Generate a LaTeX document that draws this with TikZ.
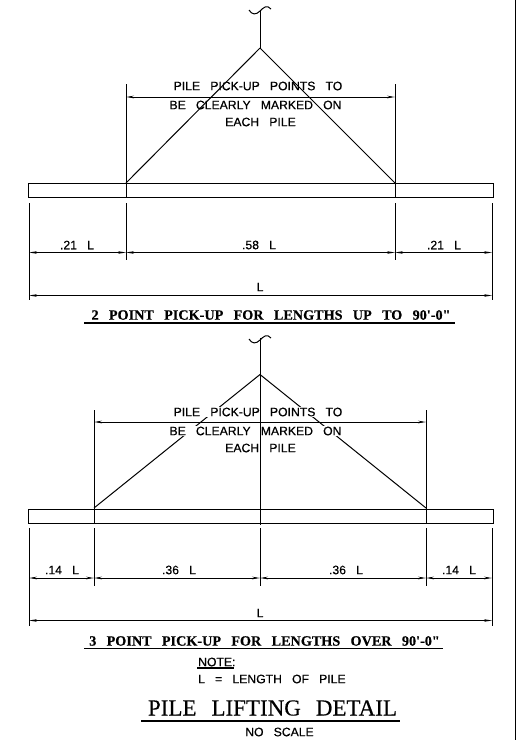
\documentclass[tikz,border=0pt]{standalone}
\usepackage{fontspec}
\usetikzlibrary{arrows.meta}
\newfontfamily\cadfont[WordSpace=3.0,FakeBold=0.5]{Liberation Sans}
\newfontfamily\titlefont[WordSpace=2.9,FakeBold=0.5]{Liberation Serif}
\newfontfamily\headfont[WordSpace=2.6,FakeBold=0.3]{Liberation Serif}
\tikzset{
  pile/.style={draw,line width=1.3pt},
  rope/.style={line width=1pt},
  ext/.style={line width=1pt},
  dim/.style={line width=0.8pt,<->,>={Stealth[length=8pt,width=2.6pt]}},
  lbl/.style={inner sep=0pt,font=\cadfont\fontsize{12.2}{13}\selectfont},
  wipe/.style={lbl,fill=white,inner xsep=1pt,inner ysep=0.5pt},
  sheettitle/.style={inner sep=0pt,font=\titlefont\bfseries\fontsize{14.2}{15}\selectfont}
}
\begin{document}
\begin{tikzpicture}[x=1pt,y=-1pt]
  \useasboundingbox (0,0) rectangle (523,740);
  \coordinate (bordertop) at (515.5,0);
  \coordinate (borderbot) at (515.5,740);
  \draw[line width=1.6pt] (bordertop) -- (borderbot);

  % two point pick-up
  \coordinate (apexA) at (260,48);
  \coordinate (topA) at (260,10);
  \coordinate (pickAl) at (126,183);
  \coordinate (pickAr) at (395,183);
  \coordinate (dimAl) at (126,97);
  \coordinate (dimAr) at (395,97);
  \draw[rope] (249,10) .. controls (252,15) and (256,15) .. (260,11) .. controls (263,8) and (267,4) .. (271,9);
  \draw[rope] (topA) -- (apexA);
  \draw[rope] (apexA) -- (pickAl);
  \draw[rope] (apexA) -- (pickAr);
  \node[pile,minimum width=464.5pt,minimum height=14pt,inner sep=0pt,anchor=north west] (pileA) at (28,183) {};
  \foreach \x in {126,395} {
    \draw[ext] (\x,84) -- (\x,197);
    \draw[ext] (\x,203) -- (\x,260);
  }
  \foreach \x in {29,492} {
    \draw[ext] (\x,203) -- (\x,300);
  }
  \draw[dim] (dimAl) -- (dimAr);
  \node[lbl] (noteAa) at (258,86) {PILE PICK-UP POINTS TO};
  \node[lbl] (noteAb) at (255.5,105) {BE CLEARLY MARKED ON};
  \node[lbl] (noteAc) at (260.5,122) {EACH PILE};
  \foreach \a/\b/\n in {29/126/a,126/395/b,395/492/c} {
    \coordinate (la\n) at (\a,252.5);
    \coordinate (ra\n) at (\b,252.5);
    \draw[dim] (la\n) -- (ra\n);
  }
  \node[lbl] (lenAa) at (77,245) {.21 L};
  \node[lbl] (lenAb) at (259,245) {.58 L};
  \node[lbl] (lenAc) at (444,245) {.21 L};
  \coordinate (totAl) at (29,295.5);
  \coordinate (totAr) at (492,295.5);
  \draw[dim] (totAl) -- (totAr);
  \node[lbl] (totA) at (260,287) {L};
  \node[sheettitle] (titleA) at (271,315) {2 POINT PICK-UP FOR LENGTHS UP TO 90'-0"};
  \draw[line width=1.2pt] (84,323) -- (455,323);

  % three point pick-up
  \coordinate (apexB) at (260,374.5);
  \coordinate (topB) at (260,338);
  \coordinate (pickBl) at (94,508);
  \coordinate (pickBr) at (426,508);
  \coordinate (dimBl) at (94,422);
  \coordinate (dimBr) at (426,422);
  \coordinate (botB) at (260,525);
  \draw[rope] (249,339) .. controls (252,344) and (256,344) .. (260,340) .. controls (263,337) and (267,333) .. (271,338);
  \draw[rope] (apexB) -- (pickBl);
  \draw[rope] (apexB) -- (pickBr);
  \node[wipe] (noteBa) at (258,412) {PILE PICK-UP POINTS TO};
  \node[wipe] (noteBb) at (255.5,431) {BE CLEARLY MARKED ON};
  \node[wipe] (noteBc) at (260.5,448) {EACH PILE};
  \draw[rope] (topB) -- (botB);
  \node[pile,minimum width=464.5pt,minimum height=14pt,inner sep=0pt,anchor=north west] (pileB) at (28,509) {};
  \foreach \x in {94,426} {
    \draw[ext] (\x,410) -- (\x,523);
    \draw[ext] (\x,528) -- (\x,586);
  }
  \draw[ext] (260,528) -- (260,586);
  \foreach \x in {29,492} {
    \draw[ext] (\x,528) -- (\x,626);
  }
  \draw[dim] (dimBl) -- (dimBr);
  \foreach \a/\b/\n in {29/94/a,94/260/b,260/426/c,426/492/d} {
    \coordinate (lb\n) at (\a,578);
    \coordinate (rb\n) at (\b,578);
    \draw[dim] (lb\n) -- (rb\n);
  }
  \node[lbl] (lenBa) at (62,570) {.14 L};
  \node[lbl] (lenBb) at (179,570) {.36 L};
  \node[lbl] (lenBc) at (346,570) {.36 L};
  \node[lbl] (lenBd) at (459,570) {.14 L};
  \coordinate (totBl) at (29,620.5);
  \coordinate (totBr) at (492,620.5);
  \draw[dim] (totBl) -- (totBr);
  \node[lbl] (totB) at (260,613) {L};
  \node[sheettitle] (titleB) at (264.5,641) {3 POINT PICK-UP FOR LENGTHS OVER 90'-0"};
  \draw[line width=1.2pt] (84,648.5) -- (443,648.5);

  % note and title
  \node[lbl,anchor=west] (notehead) at (198,662) {NOTE:};
  \draw[line width=1.2pt] (197,668) -- (234,668);
  \node[lbl,anchor=west] (notetext) at (198,679) {L = LENGTH OF PILE};
  \node[inner sep=0pt,font=\headfont\fontsize{23}{25}\selectfont] (maintitle) at (272.5,708) {PILE LIFTING DETAIL};
  \draw[line width=2pt] (141,720.5) -- (400,720.5);
  \node[lbl] (scale) at (279.5,732) {NO SCALE};
\end{tikzpicture}
\end{document}
